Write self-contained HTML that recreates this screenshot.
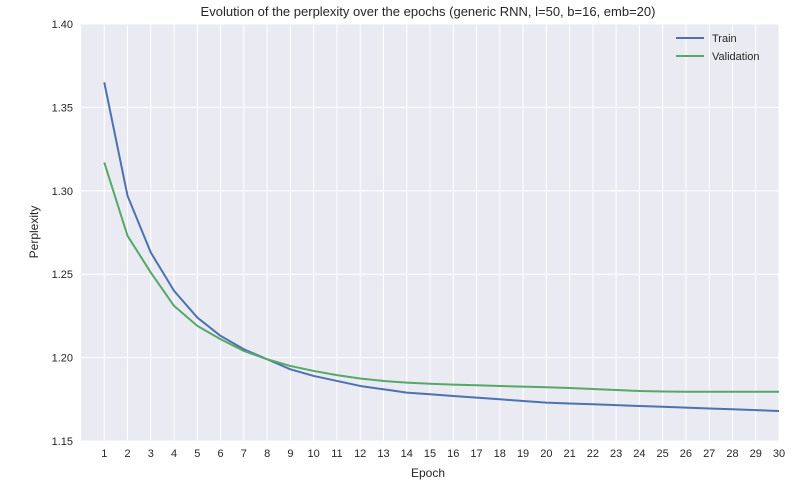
<!DOCTYPE html>
<html><head><meta charset="utf-8"><style>
body{margin:0;background:#fff;}
svg text{font-family:"Liberation Sans",sans-serif;fill:#262626;}
</style></head><body>
<svg id="chart" width="803" height="498">
<text x="428" y="16" text-anchor="middle" font-size="13">Evolution of the perplexity over the epochs (generic RNN, l=50, b=16, emb=20)</text>
<rect x="81" y="24" width="698" height="417" fill="#EAEAF2"/>
<g id="grid"></g><g id="ticks"></g><g id="series"></g>
<text x="428" y="477" text-anchor="middle" font-size="12">Epoch</text>
<text transform="translate(38,232) rotate(-90)" text-anchor="middle" font-size="12">Perplexity</text>
<g>
<line x1="676" y1="38" x2="704" y2="38" stroke="#4C72B0" stroke-width="2"/>
<text x="712" y="42" font-size="11">Train</text>
<line x1="676" y1="56" x2="704" y2="56" stroke="#55A868" stroke-width="2"/>
<text x="712" y="60" font-size="11">Validation</text>
</g>
</svg>
<script>
const epochs=[1,2,3,4,5,6,7,8,9,10,11,12,13,14,15,16,17,18,19,20,21,22,23,24,25,26,27,28,29,30];
const trainValues=[1.365,1.297,1.263,1.240,1.224,1.213,1.205,1.199,1.193,1.189,1.186,1.183,1.181,1.179,1.178,1.177,1.176,1.175,1.174,1.173,1.1725,1.172,1.1715,1.171,1.1705,1.170,1.1695,1.169,1.1685,1.168];
const valValues=[1.317,1.273,1.251,1.231,1.219,1.211,1.204,1.199,1.195,1.192,1.1895,1.1875,1.186,1.185,1.1843,1.1838,1.1834,1.183,1.1826,1.1822,1.1818,1.1812,1.1806,1.180,1.1797,1.1795,1.1795,1.1795,1.1795,1.1795];
const yTicks=[1.15,1.20,1.25,1.30,1.35,1.40];
const yTickLabels=["1.15","1.20","1.25","1.30","1.35","1.40"];
const NS="http://www.w3.org/2000/svg";
const L=81,R=779,T=24,B=441;
function xs(v){return L+(v-0)/(30-0)*(R-L);}
function ys(v){return B-(v-1.15)/(1.40-1.15)*(B-T);}
function mk(tag,attrs,parent){const e=document.createElementNS(NS,tag);for(const k in attrs)e.setAttribute(k,attrs[k]);parent.appendChild(e);return e;}
const grid=document.getElementById('grid'),ticks=document.getElementById('ticks'),series=document.getElementById('series');
yTicks.forEach((t,i)=>{
 const g=mk('line',{x1:L,x2:R,y1:ys(t),y2:ys(t),stroke:'#fff','stroke-width':1},grid);
 
 
 const tx=mk('text',{x:L-8,y:ys(t)+4,'text-anchor':'end','font-size':11},ticks);
 tx.textContent=yTickLabels[i];
 
 
});
epochs.forEach(e=>{
 const g=mk('line',{x1:xs(e),x2:xs(e),y1:T,y2:B,stroke:'#fff','stroke-width':1},grid);
 
 
 const tx=mk('text',{x:xs(e),y:B+16,'text-anchor':'middle','font-size':11},ticks);
 tx.textContent=String(e);
 
 
});
function line(vals,color,name){
 const p=mk('polyline',{points:vals.map((v,i)=>xs(epochs[i])+','+ys(v)).join(' '),fill:'none',stroke:color,'stroke-width':2,'stroke-linejoin':'round'},series);
 
 
}
line(trainValues,'#4C72B0','train-line');
line(valValues,'#55A868','validation-line');
</script>
</body></html>
